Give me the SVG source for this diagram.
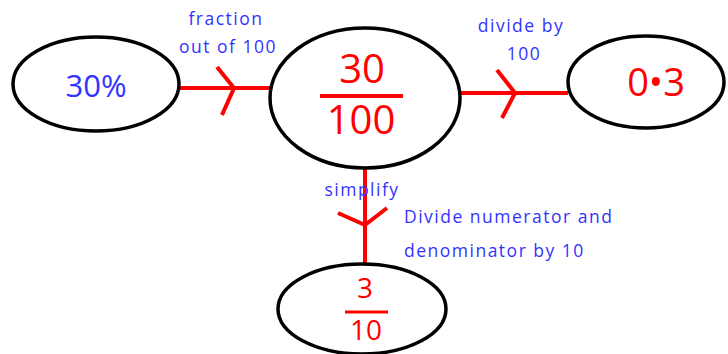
<svg xmlns="http://www.w3.org/2000/svg" width="728" height="354" viewBox="0 0 728 354">
<style>
.node{fill:#fff;stroke:#000;stroke-width:3.5}
.edge{stroke:#ff0000;stroke-width:4;fill:none;stroke-linecap:butt}
.lbl{fill:#3333ff;font-family:"Open Sans","DejaVu Sans",sans-serif;font-size:17.5px;letter-spacing:1.5px}
.num{fill:#ff0000;font-family:"Open Sans","DejaVu Sans",sans-serif;text-anchor:middle}
</style>
<rect width="728" height="354" fill="#fff"/>
<g id="connectors">
<path class="edge" d="M180 88H271M217 67L234 88L222 115"/>
<path class="edge" d="M460 93H568M497 70L515 93L502 118"/>
<path class="edge" d="M365 168V263M338 213L365 225L387 208"/>
</g>
<g id="n1">
<ellipse class="node" cx="96" cy="84" rx="83" ry="47"/>
<text x="96" y="97" class="num" style="fill:#3333ff;font-size:31px">30%</text>
</g>
<g id="n2">
<ellipse class="node" cx="365" cy="98" rx="95" ry="70"/>
<text x="362" y="83" class="num" font-size="40">30</text>
<line x1="320" y1="96" x2="403" y2="96" stroke="#ff0000" stroke-width="4"/>
<text x="361" y="134" class="num" font-size="40">100</text>
</g>
<g id="n3">
<ellipse class="node" cx="646" cy="82" rx="78" ry="46"/>
<text x="656" y="96" class="num" font-size="38">0•3</text>
</g>
<g id="n4">
<ellipse class="node" cx="362" cy="309" rx="84" ry="45"/>
<text x="365" y="298" class="num" font-size="28">3</text>
<line x1="345" y1="312" x2="388" y2="312" stroke="#ff0000" stroke-width="3"/>
<text x="366" y="340" class="num" font-size="28">10</text>
</g>
<g id="labels">
<text class="lbl" x="226" y="25" text-anchor="middle">fraction</text>
<text class="lbl" x="228" y="53" text-anchor="middle">out of 100</text>
<text class="lbl" x="521" y="32" text-anchor="middle">divide by</text>
<text class="lbl" x="524" y="60" text-anchor="middle">100</text>
<text class="lbl" x="362" y="196" text-anchor="middle">simplify</text>
<text class="lbl" x="404" y="223">Divide numerator and</text>
<text class="lbl" x="404" y="257">denominator by 10</text>
</g>
</svg>
